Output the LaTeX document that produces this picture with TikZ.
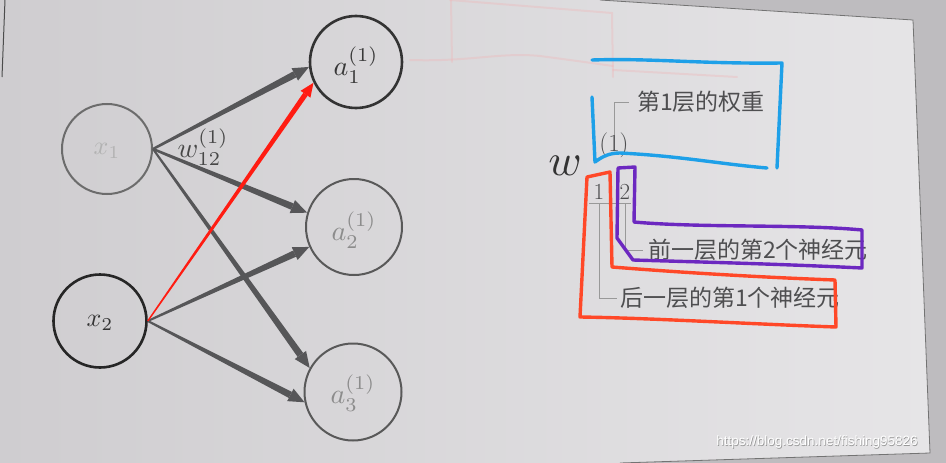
\documentclass[tikz,border=0pt]{standalone}
\usepackage{fontspec}
\newfontfamily\cjk{Noto Sans CJK SC}
\newfontfamily\wmfont{Liberation Sans}
\usetikzlibrary{calc}
\definecolor{paperL}{RGB}{207,205,208}
\definecolor{paperR}{RGB}{230,229,231}
\definecolor{outside}{RGB}{190,188,191}
\definecolor{edge}{RGB}{86,86,88}
\definecolor{penblue}{RGB}{30,160,232}
\definecolor{penred}{RGB}{255,72,40}
\definecolor{penpurple}{RGB}{108,40,192}
\definecolor{arrowred}{RGB}{255,28,18}
\definecolor{ink}{RGB}{78,78,80}
\definecolor{pink}{RGB}{240,180,182}
\tikzset{
  neuron/.style={circle, draw, minimum size=#1, inner sep=0pt},
  pen/.style={line width=3.4pt, line cap=round, line join=round},
  guide/.style={draw=gray!80, line width=0.8pt},
  note/.style={font=\cjk\fontsize{23}{26}\selectfont, text=ink, inner sep=0pt, anchor=west},
  mathlab/.style={scale=#1, inner sep=0pt},
}
% tapered connector: start, end, colour, half width at start, half width at head base, head length, head half width
\newcommand\taperarrow[7]{%
  \coordinate (ts) at (#1);
  \coordinate (te) at (#2);
  \coordinate (tb) at ($(te)!#6!(ts)$);
  \fill[#3] ($(ts)!#4!90:(tb)$) -- ($(tb)!#5!-90:(ts)$) -- ($(tb)!#5!90:(ts)$) -- ($(ts)!#4!-90:(tb)$) -- cycle;
  \fill[#3] (te) -- ($(tb)!#7!90:(te)$) -- ($(tb)!#7!-90:(te)$) -- cycle;
}
\begin{document}
\begin{tikzpicture}[x=1pt,y=-1pt]
\useasboundingbox (0,0) rectangle (946,463);
% background photo of the page
\fill[outside] (0,0) rectangle (946,463);
\shade[left color=paperL, right color=paperR] (0,0) -- (600,0) -- (913,20) -- (930,453) -- (620,463) -- (0,463) -- cycle;
\draw[gray!90!black, line width=0.8pt] (600,0) -- (913,20) -- (930,453) -- (620,463);
\draw[gray!60!black, line width=1pt] (5,0) -- (2,77);
% faint show-through from the other side of the page
\begin{scope}[pink, line width=2pt, opacity=0.35, line cap=round]
  \draw (450,0) -- (612,13) -- (613,77);
  \draw (451,0) -- (452,62);
  \draw (410,60) .. controls (470,62) and (500,52) .. (540,56) .. controls (570,60) .. (613,66);
  \draw (613,70) -- (737,77);
\end{scope}

% neurons
\node[neuron=90pt, draw=gray!85!black, line width=2pt] (x1) at (107,149) {};
\node[neuron=93pt, draw=black!85, line width=2.6pt] (x2) at (100,321) {};
\node[neuron=92pt, draw=black!80, line width=2.6pt] (a1) at (356,62) {};
\node[neuron=96pt, draw=black!65, line width=2pt] (a2) at (354,227) {};
\node[neuron=97pt, draw=black!65, line width=2pt] (a3) at (353,392) {};
\node[mathlab=2.6, text=black!30] (lx1) at ([yshift=-2pt]x1) {$x_1$};
\node[mathlab=2.6, text=black!80] (lx2) at ([yshift=-2pt]x2) {$x_2$};
\node[mathlab=2.8, text=black!78] (la1) at ([yshift=-3pt]a1) {$a_1^{(1)}$};
\node[mathlab=2.8, text=black!45] (la2) at ([yshift=-3pt]a2) {$a_2^{(1)}$};
\node[mathlab=2.8, text=black!45] (la3) at ([yshift=-1pt]a3) {$a_3^{(1)}$};

% connectors
\taperarrow{x1.east}{a1.186}{edge}{1.2pt}{3.4pt}{16pt}{7pt}
\taperarrow{x1.east}{a2.163}{edge}{1.2pt}{3.4pt}{16pt}{7pt}
\taperarrow{x1.east}{a3.151}{edge}{1pt}{3.4pt}{16pt}{7pt}
\taperarrow{x2.east}{a2.204}{edge}{1pt}{3.4pt}{16pt}{7pt}
\taperarrow{x2.east}{a3.192}{edge}{1pt}{3.4pt}{16pt}{7pt}
\taperarrow{x2.east}{a1.206}{arrowred}{0.7pt}{2.6pt}{14pt}{6pt}
\node[mathlab=2.8, text=black!72] (wlab) at (203,147) {$w_{12}^{(1)}$};

% notation w^{(1)}_{12}
\node[mathlab=4.5, text=black!80] (w) at (565,166) {$w$};
\node[text=ink, font=\fontsize{25}{28}\selectfont, inner sep=0pt] (sup) at (614,145) {(1)};
\node[text=ink, font=\fontsize{23}{26}\selectfont, inner sep=0pt] (s1) at (599,192) {1};
\node[text=ink, font=\fontsize{23}{26}\selectfont, inner sep=0pt] (s2) at (625,192) {2};
\node[note] (lab1) at (637,102) {第1层的权重};
\node[note] (lab2) at (648,250) {前一层的第2个神经元};
\node[note] (lab3) at (620,298) {后一层的第1个神经元};
\coordinate (bar1) at (589,203);
\coordinate (bar2) at (631,203);
\draw[guide] (bar1) -- (bar2);
\draw[guide] ([yshift=-3pt]sup.north) |- ([xshift=-8pt]lab1.west);
\draw[guide] (s1 |- bar1) |- ([xshift=-3pt]lab3.west);
\draw[guide] (s2 |- bar1) |- ([xshift=-5pt]lab2.west);

% hand-drawn marker boxes
\draw[pen, penblue] (592,60) .. controls (650,58) and (700,64) .. (782,63) -- (777,168);
\draw[pen, penblue] (592,97) -- (595,162) .. controls (603,156) and (610,153) .. (620,153) .. controls (680,156) and (720,164) .. (767,168);
\draw[pen, penpurple] (618,168) -- (635,167) -- (634,222) .. controls (700,228) and (800,224) .. (862,230) -- (862,268) .. controls (780,264) and (700,262) .. (633,260) -- (617,238) -- cycle;
\draw[pen, penred] (587,177) -- (610,172) -- (612,267) .. controls (700,274) and (780,278) .. (835,280) -- (836,327) .. controls (750,324) and (650,318) .. (580,317) -- cycle;

% watermark
\node[font=\wmfont\fontsize{13.5}{16}\selectfont, text=black!40] at (817.7,442.7) {https://blog.csdn.net/fishing95826};
\node[font=\wmfont\fontsize{13.5}{16}\selectfont, text=white] (wm) at (817,442) {https://blog.csdn.net/fishing95826};
\end{tikzpicture}
\end{document}
